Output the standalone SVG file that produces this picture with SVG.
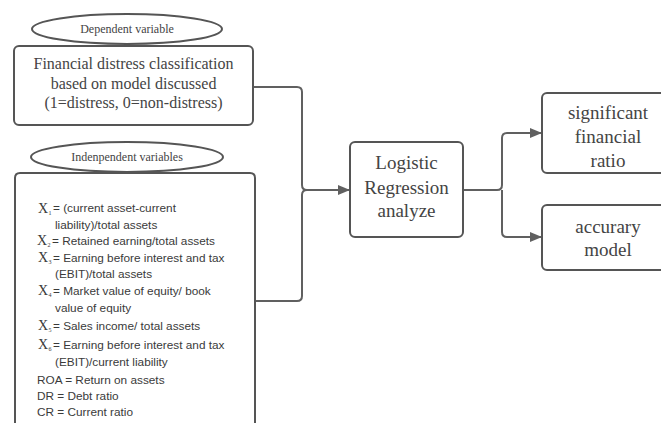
<svg xmlns="http://www.w3.org/2000/svg" width="661" height="423" viewBox="0 0 661 423">
  <style>
    .box { fill: #ffffff; stroke: #555555; stroke-width: 2; }
    .oval { fill: #ffffff; stroke: #555555; stroke-width: 2; }
    .wire { fill: none; stroke: #606060; stroke-width: 2; }
    .serif { font-family: "Liberation Serif", "DejaVu Serif", serif; fill: #444444; text-anchor: middle; }
    .big { font-size: 19px; }
    .mid { font-size: 16px; }
    .small { font-size: 12px; }
    .list { font-family: "Liberation Sans", Arial, sans-serif; font-size: 11.8px; fill: #3a3a3a; }
    .xv { font-family: "Liberation Serif", serif; font-size: 14px; fill: #3a3a3a; }
    .sub { font-family: "Liberation Serif", serif; font-size: 6px; fill: #3a3a3a; }
  </style>
  <defs>
    <marker id="arrow" markerWidth="12" markerHeight="10" refX="11" refY="5" orient="auto" markerUnits="userSpaceOnUse">
      <path d="M0,0 L12,5 L0,10 Z" fill="#606060"/>
    </marker>
  </defs>
  <rect width="661" height="423" fill="#ffffff"/>

  <!-- connectors -->
  <g id="connectors">
    <path class="wire" d="M253,87 H297 Q302,87 302,92 V185 Q302,190 307,190 H349" marker-end="url(#arrow)"/>
    <path class="wire" d="M255,301 H297 Q302,301 302,296 V195 Q302,190 307,190"/>
    <path class="wire" d="M463,190 H497 Q502,190 502,185 V138 Q502,133 507,133 H541" marker-end="url(#arrow)"/>
    <path class="wire" d="M502,190 V232 Q502,237 507,237 H541" marker-end="url(#arrow)"/>
  </g>

  <!-- dependent variable label -->
  <g id="dependent-label">
    <ellipse class="oval" cx="127" cy="29" rx="95" ry="15"/>
    <text class="serif small" x="127" y="33">Dependent variable</text>
  </g>

  <!-- dependent variable box -->
  <g id="dependent">
    <rect class="box" x="14" y="46" width="239" height="79" rx="5"/>
    <text class="serif mid" x="133.5" y="68.5">Financial distress classification</text>
    <text class="serif mid" x="133.5" y="89">based on model discussed</text>
    <text class="serif mid" x="133.5" y="108">(1=distress, 0=non-distress)</text>
  </g>

  <!-- independent variables label -->
  <g id="independent-label">
    <ellipse class="oval" cx="127" cy="157" rx="96" ry="15"/>
    <text class="serif small" x="127" y="161">Indenpendent variables</text>
  </g>

  <!-- independent variables box -->
  <g id="independent">
    <path class="box" d="M15,430 V178 Q15,173 20,173 H250 Q255,173 255,178 V430"/>
    <text class="xv" x="38" y="213">X</text><text class="sub" x="48.5" y="215">1</text>
    <text class="list" x="53" y="212">= (current asset-current</text>
    <text class="list" x="55" y="229">liability)/total assets</text>
    <text class="xv" x="37" y="245">X</text><text class="sub" x="47.5" y="247">2</text>
    <text class="list" x="52" y="245">= Retained earning/total assets</text>
    <text class="xv" x="38" y="262">X</text><text class="sub" x="48.5" y="264">3</text>
    <text class="list" x="53" y="262">= Earning before interest and tax</text>
    <text class="list" x="55" y="278">(EBIT)/total assets</text>
    <text class="xv" x="38" y="295">X</text><text class="sub" x="48.5" y="297">4</text>
    <text class="list" x="53" y="295">= Market value of equity/ book</text>
    <text class="list" x="55" y="312">value of equity</text>
    <text class="xv" x="38" y="330">X</text><text class="sub" x="48.5" y="332">5</text>
    <text class="list" x="53" y="330">= Sales income/ total assets</text>
    <text class="xv" x="38" y="349">X</text><text class="sub" x="48.5" y="351">6</text>
    <text class="list" x="53" y="349">= Earning before interest and tax</text>
    <text class="list" x="55" y="366">(EBIT)/current liability</text>
    <text class="list" x="37" y="384">ROA = Return on assets</text>
    <text class="list" x="37" y="400">DR = Debt ratio</text>
    <text class="list" x="37" y="416">CR = Current ratio</text>
  </g>

  <!-- logistic regression -->
  <g id="logistic">
    <rect class="box" x="350" y="142" width="113" height="95" rx="5"/>
    <text class="serif big" x="406.5" y="169">Logistic</text>
    <text class="serif big" x="406.5" y="194">Regression</text>
    <text class="serif big" x="406.5" y="217">analyze</text>
  </g>

  <!-- outputs -->
  <g id="significant">
    <rect class="box" x="542" y="93" width="140" height="80" rx="5"/>
    <text class="serif big" x="608" y="119">significant</text>
    <text class="serif big" x="608" y="143">financial</text>
    <text class="serif big" x="608" y="167">ratio</text>
  </g>
  <g id="accuracy">
    <rect class="box" x="542" y="205" width="140" height="65" rx="5"/>
    <text class="serif big" x="608" y="233">accurary</text>
    <text class="serif big" x="608" y="256">model</text>
  </g>
</svg>
